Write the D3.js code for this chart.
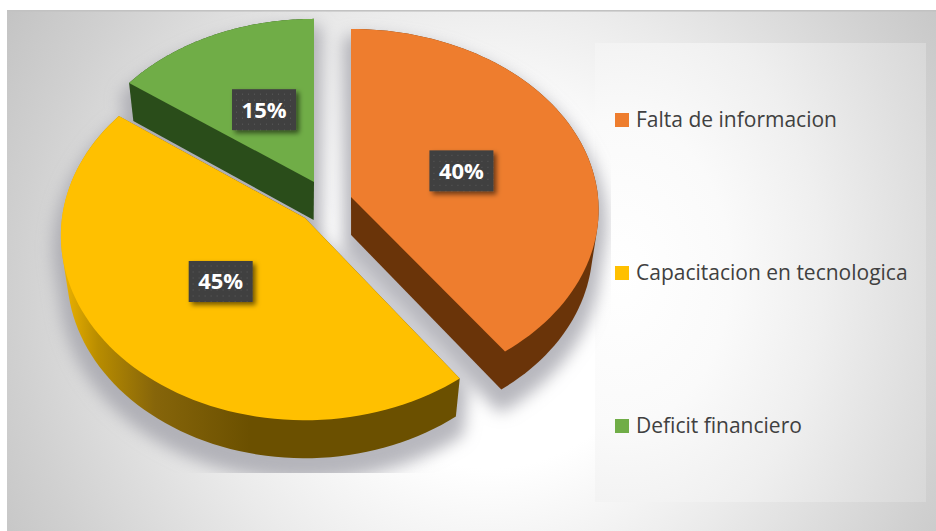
<!DOCTYPE html>
<html><head><meta charset="utf-8">
<script src="https://cdn.jsdelivr.net/npm/d3@7/dist/d3.min.js"></script>
<style>html,body{margin:0;padding:0;background:#fff;overflow:hidden}svg{display:block}</style>
</head><body><svg id="c" width="936" height="531"></svg>
<script>
const categories = ["Falta de informacion", "Capacitacion en tecnologica", "Deficit financiero"];
const values = [40, 45, 15];
const sliceColors = ["#ee7d2e", "#ffc000", "#70ad47"];
const sideColors = ["#6a3409", "#6b5000", "#2a4d1a"];

// per-slice view calibration of the exploded 3D pie
const apexes = [[351, 197], [305, 218], [314, 182]];
const radiiX = [247, 243, 240];
const radiiY = [180, 183, 177];
const perspective = [0.071, 0.095, 0.085];
const lowerCentres = [355, 305, 300];
const DEPTH = 38, LABEL_FRAC = 0.475;
const font = "'Open Sans','Noto Sans',sans-serif";

const svg = d3.select("#c");
const defs = svg.append("defs");

const bg = defs.append("radialGradient").attr("id","bg").attr("gradientUnits","userSpaceOnUse")
  .attr("cx",490).attr("cy",300).attr("r",560);
[[0.3,"#ffffff"],[0.55,"#ebebeb"],[0.85,"#d0d0d0"],[1,"#c4c4c4"]].forEach(s=>bg.append("stop").attr("offset",s[0]).attr("stop-color",s[1]));
const lg = defs.append("radialGradient").attr("id","lg").attr("cx",0.08).attr("cy",0.5).attr("r",1.1);
[[0,"#ffffff"],[0.3,"#fafafa"],[0.55,"#efefef"],[0.82,"#dfdfdf"],[1,"#d5d5d5"]].forEach(s=>lg.append("stop").attr("offset",s[0]).attr("stop-color",s[1]));
const ys = defs.append("linearGradient").attr("id","ys").attr("gradientUnits","userSpaceOnUse").attr("x1",60).attr("x2",250).attr("y1",0).attr("y2",0);
[[0,"#f2b600"],[0.2,"#b88c00"],[0.5,"#86650a"],[1,sideColors[1]]].forEach(s=>ys.append("stop").attr("offset",s[0]).attr("stop-color",s[1]));
defs.append("filter").attr("id","blur").attr("x","-20%").attr("y","-20%").attr("width","140%").attr("height","140%")
  .append("feGaussianBlur").attr("stdDeviation",8);
const ds = defs.append("filter").attr("id","ds").attr("x","-30%").attr("y","-30%").attr("width","170%").attr("height","170%");
ds.append("feDropShadow").attr("dx",3).attr("dy",3).attr("stdDeviation",2.5).attr("flood-color","#000").attr("flood-opacity",0.55);
const pat = defs.append("pattern").attr("id","dots").attr("width",6).attr("height",6).attr("patternUnits","userSpaceOnUse");
pat.append("rect").attr("width",6).attr("height",6).attr("fill","#404040");
pat.append("rect").attr("x",2).attr("y",2).attr("width",1).attr("height",1).attr("fill","#5c5c5c");
defs.append("clipPath").attr("id","sc").append("rect").attr("x",7).attr("y",11).attr("width",604).attr("height",462);

svg.append("rect").attr("x",7).attr("y",10).attr("width",929).attr("height",521).attr("fill","url(#bg)");
svg.append("rect").attr("x",7).attr("y",10).attr("width",929).attr("height",1.6).attr("fill","#c2c2c2");
svg.append("rect").attr("x",595).attr("y",43).attr("width",331).attr("height",459).attr("fill","url(#lg)");

const pie = d3.pie().sort(null).value(d=>d)(values);
const color = d3.scaleOrdinal().domain(categories).range(sliceColors);
function proj(i, a, f){
  const X = Math.sin(a)*f, Y = Math.cos(a)*f, w = 1/(1+perspective[i]*Y);
  return [apexes[i][0]+radiiX[i]*X*w, apexes[i][1]-radiiY[i]*Y*w];
}
const lower = (p,i) => [lowerCentres[i]+(p[0]-lowerCentres[i])*0.975, p[1]+DEPTH];
function outline(i){
  const s = pie[i], n = 80, pts = [[...apexes[i]]];
  for(let j=0;j<=n;j++) pts.push(proj(i, s.startAngle+(s.endAngle-s.startAngle)*j/n, 1));
  return pts;
}
const line = d3.line().curve(d3.curveLinearClosed);
const silhouettes = pie.map((_,i)=>{const o=outline(i);return d3.polygonHull(o.concat(o.map(p=>lower(p,i))));});

svg.append("g").attr("clip-path","url(#sc)").append("g").attr("filter","url(#blur)").attr("transform","translate(0,14)")
  .selectAll("path").data(silhouettes).join("path").attr("d",line)
  .attr("fill","#a0a0a8").attr("stroke","#a0a0a8").attr("stroke-width",16).attr("stroke-linejoin","round").attr("opacity",0.75);

[2,0,1].forEach(i=>{
  const g = svg.append("g");
  g.append("path").attr("d",line(silhouettes[i])).attr("fill", i===1?"url(#ys)":sideColors[i]);
  g.append("path").attr("d",line(outline(i))).attr("fill",color(categories[i]));
});

const total = d3.sum(values);
pie.forEach((s,i)=>{
  const c = proj(i,(s.startAngle+s.endAngle)/2,LABEL_FRAC);
  const g = svg.append("g").attr("transform",`translate(${c[0]},${c[1]})`);
  g.append("rect").attr("x",-32).attr("y",-20.5).attr("width",64).attr("height",41).attr("fill","url(#dots)").attr("filter","url(#ds)");
  g.append("text").attr("text-anchor","middle").attr("y",8).attr("font-family",font).attr("font-weight",700).attr("font-size",22)
    .attr("fill","#fff").text(d3.format(".0%")(s.data/total));
});

const legendY = d3.scalePoint().domain(categories).range([120,426]);
const legend = svg.append("g").selectAll("g").data(categories).join("g");
legend.append("rect").attr("x",615).attr("y",d=>legendY(d)-7).attr("width",14).attr("height",14).attr("fill",d=>color(d));
legend.append("text").attr("x",636).attr("y",d=>legendY(d)+7).attr("font-family",font).attr("font-size",21).attr("fill","#404040").text(d=>d);
</script></body></html>
